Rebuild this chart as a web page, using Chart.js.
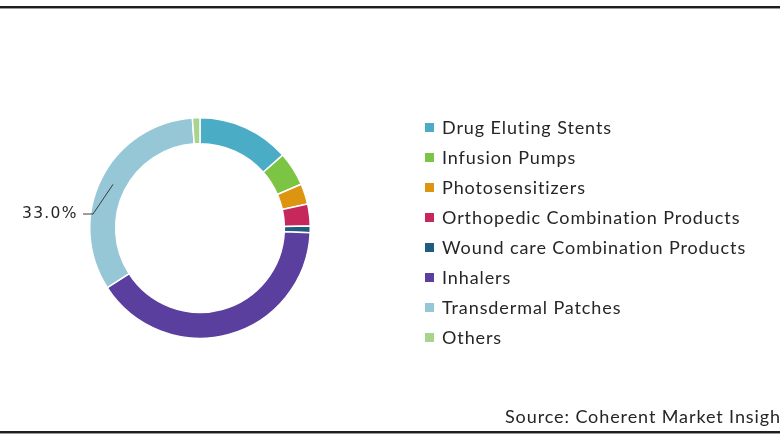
<!DOCTYPE html>
<html>
<head>
<meta charset="utf-8">
<script src="https://cdn.jsdelivr.net/npm/chart.js@4.4.0/dist/chart.umd.min.js"></script>
<style>
  html, body { margin: 0; padding: 0; background: #ffffff; }
  #wrap { position: relative; width: 780px; height: 440px; }
  canvas { display: block; }
</style>
</head>
<body>
<div id="wrap"><canvas id="c" width="780" height="440"></canvas></div>
<script>
const categories = [
  'Drug Eluting Stents',
  'Infusion Pumps',
  'Photosensitizers',
  'Orthopedic Combination Products',
  'Wound care Combination Products',
  'Inhalers',
  'Transdermal Patches',
  'Others'
];
const shares = [13.5, 5.0, 3.0, 3.2, 1.0, 40.2, 33.0, 1.1];
const colors = ['#4BACC6', '#7CC444', '#DD9410', '#C7285C', '#1F5C80', '#5B3F9F', '#95C7D6', '#A8D48E'];
const labelledIndex = 6;
const labelText = '33.0%';
const sourceText = 'Source: Coherent Market Insights';

const overlay = {
  id: 'overlay',
  afterDraw(chart) {
    const ctx = chart.ctx;
    ctx.save();
    // frame lines
    ctx.fillStyle = '#1e1e1e';
    ctx.fillRect(0, 6, 780, 2);
    ctx.fillRect(0, 431, 780, 2);
    ctx.fillStyle = '#9a9a9a';
    ctx.fillRect(0, 8, 780, 1);
    ctx.fillRect(0, 433, 780, 1);

    // data label with leader line
    const arc = chart.getDatasetMeta(0).data[labelledIndex];
    const p = arc.tooltipPosition();
    ctx.strokeStyle = '#3a3a3a';
    ctx.lineWidth = 1;
    ctx.beginPath();
    ctx.moveTo(p.x, p.y);
    ctx.lineTo(p.x - 20, 214);
    ctx.lineTo(p.x - 30, 214);
    ctx.stroke();
    ctx.fillStyle = '#262626';
    ctx.font = '15.5px "DejaVu Sans"';
    ctx.letterSpacing = '1.3px';
    ctx.textAlign = 'left';
    ctx.textBaseline = 'middle';
    ctx.fillText(labelText, 22, 214);

    // legend
    ctx.font = '18px Lato';
    ctx.letterSpacing = '0.9px';
    categories.forEach((c, i) => {
      const y = 128 + i * 30;
      ctx.fillStyle = colors[i];
      ctx.fillRect(425, y - 5, 9, 9);
      ctx.fillStyle = '#262626';
      ctx.fillText(c, 442, y);
    });

    // source
    ctx.fillText(sourceText, 505, 417);
    ctx.restore();
  }
};

new Chart(document.getElementById('c'), {
  type: 'doughnut',
  data: {
    labels: categories,
    datasets: [{
      data: shares,
      backgroundColor: colors,
      borderColor: '#ffffff',
      borderWidth: 1.5
    }]
  },
  options: {
    responsive: false,
    animation: false,
    cutout: '76.5%',
    layout: { padding: { left: 89, right: 469, top: 117, bottom: 101 } },
    plugins: {
      legend: { display: false },
      tooltip: { enabled: false }
    }
  },
  plugins: [overlay]
});
</script>
</body>
</html>
